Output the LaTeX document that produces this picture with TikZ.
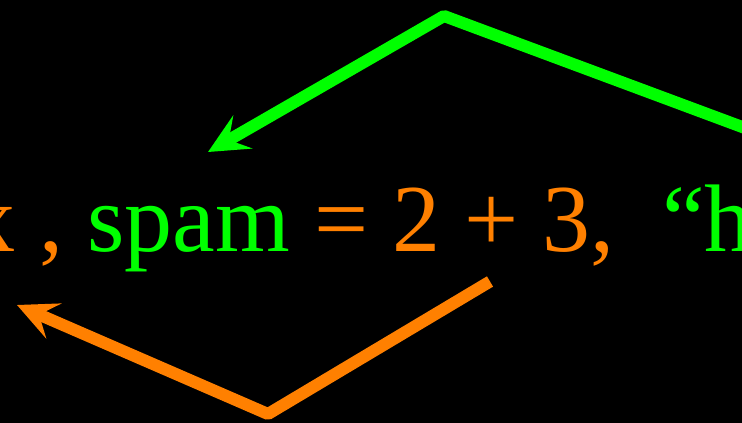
\documentclass[tikz,border=0pt]{standalone}
\usepackage{fontspec}
\setmainfont{Liberation Serif}
\usetikzlibrary{arrows.meta}
\definecolor{codegreen}{RGB}{0,255,0}
\definecolor{codeorange}{RGB}{255,128,0}

\begin{document}
\begin{tikzpicture}[
  x=1pt, y=-1pt,
  code/.style={anchor=base west, inner sep=0pt, font=\fontsize{96}{100}\selectfont},
  bind/.style={line width=12pt, line join=bevel, -{Stealth[length=40pt, width=38pt, inset=16pt]}},
  gbind/.style={bind, draw=codegreen},
  obind/.style={bind, draw=codeorange}
]

\fill[black] (0,0) rectangle (742,423);
\useasboundingbox (0,0) rectangle (742,423);
\clip (0,0) rectangle (742,423);

\node[code] (expr) at (-32.8,251) {\textcolor{codeorange}{x ,} \textcolor{codegreen}{spam} \textcolor{codeorange}{= 2 + 3,}\ \ \textcolor{codegreen}{“h}};

\coordinate (gstart) at (800,148.5);
\coordinate (gpeak) at (444,16);
\coordinate (gtip) at (208,152);
\coordinate (ostart) at (490,281.5);
\coordinate (ovalley) at (268,414);
\coordinate (otip) at (17,305);

\draw[gbind] (gstart) -- (gpeak) -- (gtip);
\draw[obind] (ostart) -- (ovalley) -- (otip);

\end{tikzpicture}
\end{document}
